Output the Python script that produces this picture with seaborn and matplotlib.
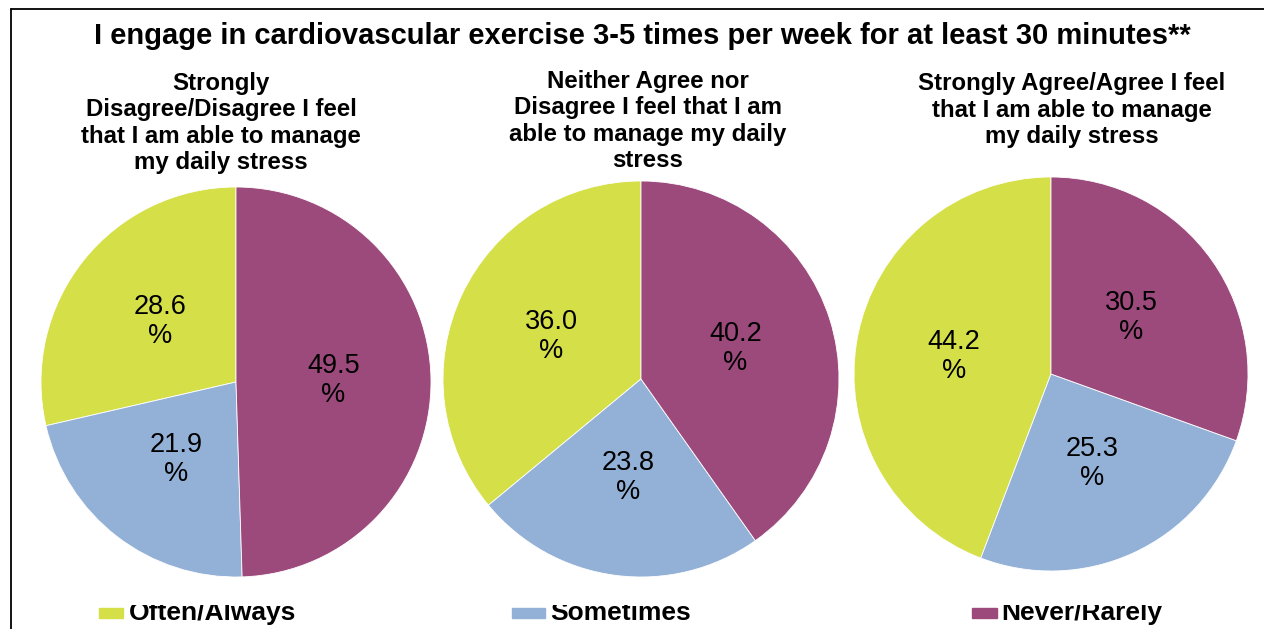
import matplotlib
matplotlib.use("Agg")
import matplotlib.pyplot as plt
import seaborn as sns
from matplotlib.lines import Line2D
from matplotlib.patches import Rectangle

sns.set_theme(style="white")
plt.rcParams['font.family'] = ['Liberation Sans', 'DejaVu Sans']
plt.rcParams['text.color'] = 'black'

# --- data ---
categories = ['Often/Always', 'Sometimes', 'Never/Rarely']
colors = ['#D5DF48', '#93B1D7', '#9C4A7C']
titles = [
    'Strongly\nDisagree/Disagree I feel\nthat I am able to manage\nmy daily stress',
    'Neither Agree nor\nDisagree I feel that I am\nable to manage my daily\nstress',
    'Strongly Agree/Agree I feel\nthat I am able to manage\nmy daily stress',
]
disagree_vals = [28.6, 21.9, 49.5]
neutral_vals = [36.0, 23.8, 40.2]
agree_vals = [44.2, 25.3, 30.5]
main_title = 'I engage in cardiovascular exercise 3-5 times per week for at least 30 minutes**'

W, H = 1264, 629
fig = plt.figure(figsize=(W / 100, H / 100), dpi=100)

def px_axes(cx, cy, r):
    return fig.add_axes([(cx - r) / W, (H - cy - r) / H, 2 * r / W, 2 * r / H])

# pie centres / radius in pixels, subtitle centre
pies = [(236, 382, 195, disagree_vals, 221, 123),
        (641, 379, 198, neutral_vals, 648, 121),
        (1051, 374, 197, agree_vals, 1072, 110)]

for (cx, cy, r, vals, tx, ty), title in zip(pies, titles):
    ax = px_axes(cx, cy, r)
    ax.pie(vals, colors=colors, startangle=90, counterclock=True,
           autopct=lambda p: f'{p:.1f}\n%', pctdistance=0.5,
           wedgeprops=dict(linewidth=0.6, edgecolor='white'),
           textprops=dict(fontsize=19.5, color='black', linespacing=1.15))
    ax.set_xlim(-1, 1)
    ax.set_ylim(-1, 1)
    ax.axis('off')
    fig.text(tx / W, 1 - ty / H, title, ha='center', va='center',
             fontsize=17.3, fontweight='bold', linespacing=1.17, color='black')

fig.text(642 / W, 1 - 36 / H, main_title, ha='center', va='center',
         fontsize=21, fontweight='bold', color='black')

# legend strip, clipped at its top like the original
clip_y = 605
lax = fig.add_axes([0, 0, 1, (H - clip_y) / H])
lax.set_xlim(0, W)
lax.set_ylim(H, clip_y)
lax.axis('off')
legend_boxes = [(99, 123), (512, 545), (972, 997)]
legend_text_x = [129, 550, 1001]
for (x0, x1), tx, lab, col in zip(legend_boxes, legend_text_x, categories, colors):
    lax.add_patch(Rectangle((x0, 608), x1 - x0, 10, color=col))
    lax.text(tx, 620, lab, ha='left', va='baseline', fontsize=19,
             fontweight='bold', color='black', clip_on=True)

# frame lines (top and left)
fig.add_artist(Line2D([11 / W, 1], [1 - 9 / H, 1 - 9 / H], color='black', lw=1.3))
fig.add_artist(Line2D([11 / W, 11 / W], [0, 1 - 9 / H], color='black', lw=1.3))

fig.savefig('out.png', dpi=100, facecolor='white')
